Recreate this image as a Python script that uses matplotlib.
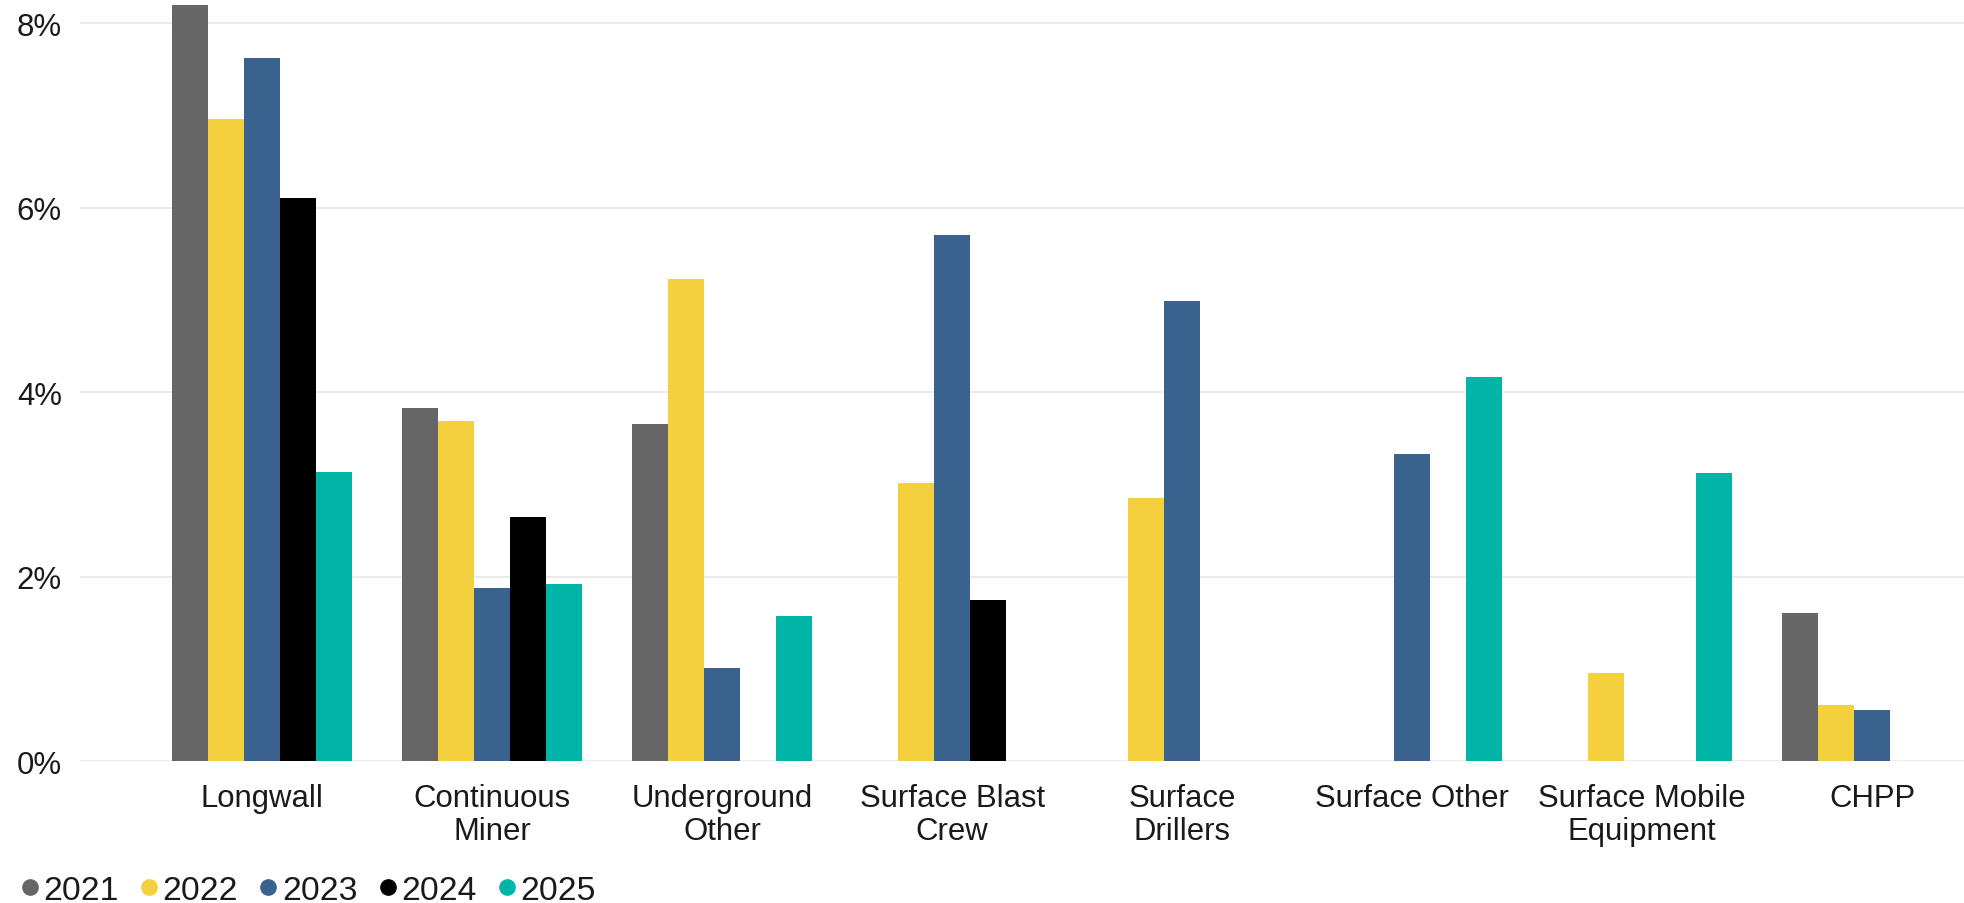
import numpy as np
import matplotlib
matplotlib.use("Agg")
import matplotlib.pyplot as plt
from matplotlib.lines import Line2D

plt.rcParams['font.family'] = ['Liberation Sans', 'DejaVu Sans']

categories = ["Longwall", "Continuous\nMiner", "Underground\nOther", "Surface Blast\nCrew",
              "Surface\nDrillers", "Surface Other", "Surface Mobile\nEquipment", "CHPP"]
years = ["2021", "2022", "2023", "2024", "2025"]
nan = np.nan
v2021 = [8.20, 3.83, 3.65, nan, nan, nan, nan, 1.60]
v2022 = [6.96, 3.69, 5.23, 3.02, 2.85, nan, 0.95, 0.61]
v2023 = [7.62, 1.88, 1.01, 5.71, 4.99, 3.33, nan, 0.55]
v2024 = [6.11, 2.65, nan, 1.75, nan, nan, nan, nan]
v2025 = [3.14, 1.92, 1.57, nan, nan, 4.17, 3.12, nan]
series = [v2021, v2022, v2023, v2024, v2025]
colors = ["#666666", "#F4D03F", "#3A628F", "#000000", "#00B5A8"]

fig = plt.figure(figsize=(19.64, 9.04), dpi=100)
ax = fig.add_axes([80/1964, 1 - 762/904, 1 - 80/1964, 762/904])

x = np.arange(len(categories))
w = 0.1566
for j, vals in enumerate(series):
    ax.bar(x + (j - 2) * w, vals, width=w, color=colors[j], zorder=3)

ax.set_xlim(-0.792, 7.40)
ax.set_ylim(0, 8.265)
ax.set_yticks([0, 2, 4, 6, 8])
ax.set_yticklabels([f"{t}%" for t in [0, 2, 4, 6, 8]])
ax.set_xticks(x)
ax.set_xticklabels(categories, linespacing=1.1)
ax.grid(axis='y', color='#EBEBEB', linewidth=1.5, zorder=0)
for s in ax.spines.values():
    s.set_visible(False)
ax.tick_params(axis='both', length=0, labelsize=22.4, colors='#1a1a1a')
ax.tick_params(axis='x', pad=16)
ax.tick_params(axis='y', pad=13)

# legend along the bottom edge
handles = [Line2D([], [], linestyle='none', marker='o', markersize=11,
                  markerfacecolor=c, markeredgecolor=c) for c in colors]
fig.legend(handles, years, loc='lower left', bbox_to_anchor=(0.004, -0.018),
           ncol=5, frameon=False, fontsize=24.3, handlelength=0.5,
           handletextpad=0.15, columnspacing=0.65, borderaxespad=0.0,
           labelcolor='#1a1a1a')

fig.savefig("out.png", dpi=100)
